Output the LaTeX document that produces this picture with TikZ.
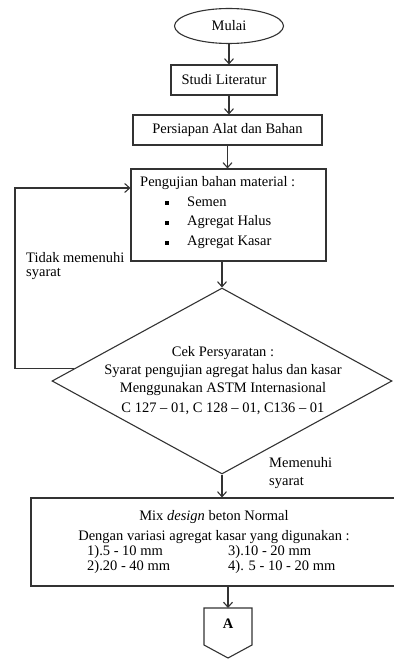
\documentclass[tikz,border=0pt]{standalone}
\usepackage{fontspec}
\setmainfont{Liberation Serif}
\usetikzlibrary{shapes.geometric,arrows.meta,calc}
\definecolor{lc}{HTML}{333333}
\begin{document}
\begin{tikzpicture}[x=1pt,y=-1pt,
  box/.style={draw=lc, line width=1.1pt, inner sep=0pt, font=\fontsize{14.5}{15}\selectfont},
  txt/.style={inner sep=0pt, font=\fontsize{14.5}{15}\selectfont},
  arr/.style={draw=lc, line width=1.1pt, -{Straight Barb[length=5pt,width=9pt,line width=1.1pt]}},
  ln/.style={draw=lc, line width=1.1pt},
  bul/.style={fill=black, inner sep=0pt, minimum size=3.6pt}]
\useasboundingbox (0,0) rectangle (393,663);

\node[box, ellipse, minimum width=109pt, minimum height=35pt] (mulai) at (229,26) {Mulai};
\node[box, minimum width=106pt, minimum height=30pt] (studi) at (224,80) {Studi Literatur};
\node[box, minimum width=189pt, minimum height=30pt] (persiapan) at (227.5,130) {Persiapan Alat dan Bahan};

\node[box, minimum width=195pt, minimum height=92pt] (uji) at (228.5,215) {};
\node[txt, anchor=west] (ujit) at (140,183) {Pengujian bahan material :};
\node[bul] (b1) at (167,203) {};
\node[bul] (b2) at (167,223) {};
\node[bul] (b3) at (167,243) {};
\node[txt, anchor=west] (i1) at (187,202) {Semen};
\node[txt, anchor=west] (i2) at (187,222) {Agregat Halus};
\node[txt, anchor=west] (i3) at (187,242) {Agregat Kasar};

\node[box, diamond, minimum width=340pt, minimum height=186pt] (dia) at (222,381) {};
\node[txt, align=center, font=\fontsize{14.5}{18}\selectfont] (diat) at (223,381)
  {Cek Persyaratan :\\ Syarat pengujian agregat halus dan kasar\\ Menggunakan ASTM Internasional\\[2pt] C 127 -- 01, C 128 -- 01, C136 -- 01};

\coordinate (ls) at ($(dia.west)!0.13!(dia.north)$);
\coordinate (c2) at (15,188);
\draw[arr] (ls) -- (ls -| c2) -- (c2) -- (c2 -| uji.west);
\node[txt, align=left, anchor=west, font=\fontsize{14.5}{14}\selectfont] (tidak) at (26,266) {Tidak memenuhi\\syarat};
\node[txt, align=left, anchor=west, font=\fontsize{14.5}{18}\selectfont] (memenuhi) at (269,473) {Memenuhi\\syarat};

\node[box, minimum width=366pt, minimum height=88pt] (mix) at (214,542) {};
\node[txt] (mix1) at (214,517) {Mix \textit{design} beton Normal};
\node[txt] (mix2) at (214,537) {Dengan variasi agregat kasar yang digunakan :};
\node[txt, anchor=west] (v1) at (87,552) {1).5 - 10 mm};
\node[txt, anchor=west] (v2) at (87,567) {2).20 - 40 mm};
\node[txt, anchor=west] (v3) at (228,552) {3).10 - 20 mm};
\node[txt, anchor=west] (v4) at (228,567) {4). 5 - 10 - 20 mm};

\coordinate (pA) at (228,608);
\draw[ln] (204,608) -- (252,608) -- (252,645) -- (228,658) -- (204,645) -- cycle;
\node[txt, font=\fontsize{14.5}{15}\selectfont\bfseries] (A) at (228,624) {A};

\draw[arr] (mulai.south) -- (mulai.south |- studi.north);
\draw[arr] (mulai.south |- studi.south) -- (mulai.south |- persiapan.north);
\draw[arr] (persiapan.south) -- (persiapan.south |- uji.north);
\draw[arr] (dia.north |- uji.south) -- (dia.north);
\draw[arr] (dia.south) -- (dia.south |- mix.north);
\draw[arr] (mix.south -| pA) -- (pA);
\end{tikzpicture}
\end{document}
